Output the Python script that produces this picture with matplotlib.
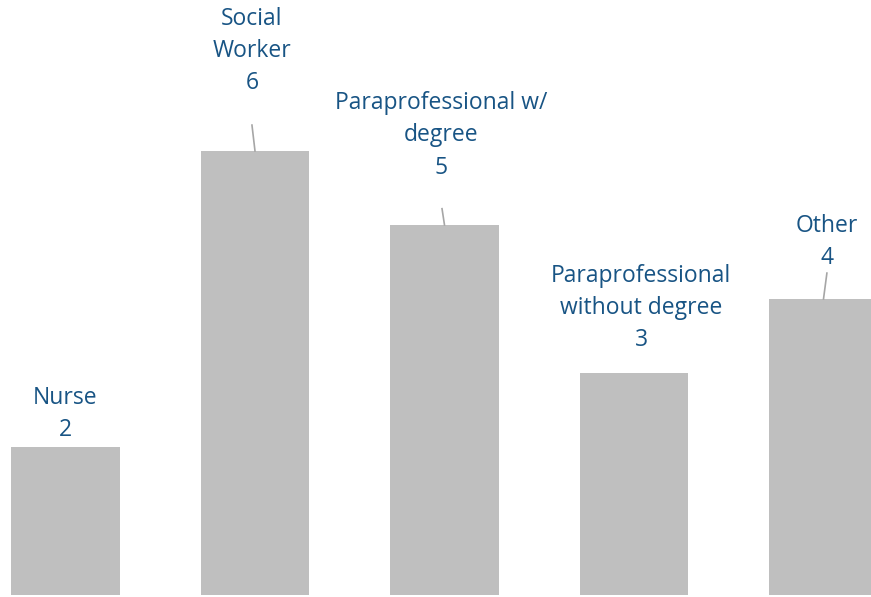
import matplotlib.pyplot as plt

# Data
categories = ['Nurse', 'Social\nWorker', 'Paraprofessional w/\ndegree',
              'Paraprofessional\nwithout degree', 'Other']
values = [2, 6, 5, 3, 4]

# label placement (data coords) and whether a leader line is drawn
label_pos = [(0.0, 2.45), (0.984, 7.35), (1.98, 6.21), (3.037, 3.875), (4.018, 4.77)]
leader_start = [None, (0.984, 6.35), (1.987, 5.22), None, (4.018, 4.35)]

BAR_COLOR = '#BFBFBF'
TEXT_COLOR = '#185484'
LINE_COLOR = '#A6A6A6'

plt.rcParams['font.family'] = ['Open Sans', 'DejaVu Sans']

fig = plt.figure(figsize=(8.71, 5.97), dpi=100)
ax = fig.add_axes([0, 0, 1, 1])

x = list(range(len(values)))
ax.bar(x, values, width=0.575, color=BAR_COLOR)

for i, (cat, val) in enumerate(zip(categories, values)):
    lx, ly = label_pos[i]
    ax.text(lx, ly, f'{cat}\n{val}', ha='center', va='center',
            fontsize=16.5, color=TEXT_COLOR, linespacing=1.45)
    if leader_start[i] is not None:
        sx, sy = leader_start[i]
        ax.plot([sx, i], [sy, val], color=LINE_COLOR, linewidth=1.2)

ax.set_xlim(-0.3456, 4.2507)
ax.set_ylim(-0.027, 8.04)
ax.axis('off')

fig.savefig('out.png', dpi=100, facecolor='white')
